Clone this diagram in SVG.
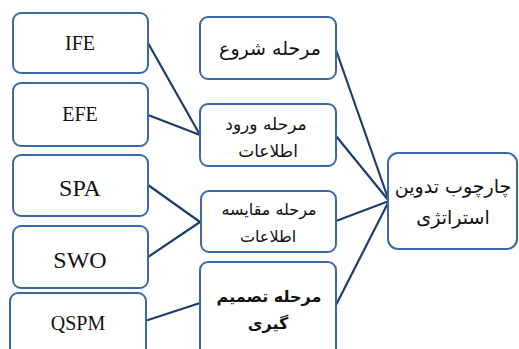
<svg xmlns="http://www.w3.org/2000/svg" width="519" height="349" viewBox="0 0 519 349">
<style>
.box{fill:#fff;stroke:#3a6aa6;stroke-width:2}
.ln{stroke:#1d3d6b;stroke-width:2.2;fill:none}
.en{font-family:"Liberation Serif",serif;fill:#111;text-anchor:middle}
.fa{font-family:"DejaVu Sans",sans-serif;fill:#111;text-anchor:middle;direction:rtl}
</style>
<rect width="519" height="349" fill="#fff"/>
<g id="connectors">
<line class="ln" x1="148" y1="43" x2="200" y2="135"/>
<line class="ln" x1="148" y1="115" x2="200" y2="135"/>
<line class="ln" x1="148" y1="185" x2="200" y2="222"/>
<line class="ln" x1="148" y1="257" x2="200" y2="222"/>
<line class="ln" x1="145" y1="321" x2="200" y2="303"/>
<line class="ln" x1="336" y1="50" x2="389" y2="201"/>
<line class="ln" x1="336" y1="136" x2="389" y2="201"/>
<line class="ln" x1="336" y1="221" x2="389" y2="201"/>
<line class="ln" x1="336" y1="305" x2="389" y2="201"/>
</g>
<g id="ife"><rect class="box" x="13" y="13" width="135" height="60" rx="8"/><text class="en" x="80" y="50" font-size="20">IFE</text></g>
<g id="efe"><rect class="box" x="13" y="83" width="135" height="63" rx="8"/><text class="en" x="80" y="121" font-size="20">EFE</text></g>
<g id="spa"><rect class="box" x="13" y="155" width="135" height="61" rx="8"/><text class="en" x="80" y="196" font-size="24">SPA</text></g>
<g id="swo"><rect class="box" x="13" y="226" width="135" height="62" rx="8"/><text class="en" x="80" y="268" font-size="24">SWO</text></g>
<g id="qspm"><rect class="box" x="10" y="293" width="136" height="70" rx="8"/><text class="en" x="78" y="330" font-size="20">QSPM</text></g>
<g id="start"><rect class="box" x="200" y="17" width="136" height="62" rx="8"/><text class="fa" x="270" y="55" font-size="19">مرحله شروع</text></g>
<g id="input"><rect class="box" x="200" y="104" width="136" height="62" rx="8"/><text class="fa" x="266" y="130" font-size="17">مرحله ورود</text><text class="fa" x="268" y="157" font-size="17">اطلاعات</text></g>
<g id="compare"><rect class="box" x="201" y="191" width="135" height="61" rx="8"/><text class="fa" x="269" y="215" font-size="16">مرحله مقایسه</text><text class="fa" x="268" y="242" font-size="16">اطلاعات</text></g>
<g id="decision"><rect class="box" x="200" y="262" width="136" height="100" rx="8"/><text class="fa" x="269" y="302" font-size="16" font-weight="bold">مرحله تصمیم</text><text class="fa" x="268" y="329" font-size="16" font-weight="bold">گیری</text></g>
<g id="framework"><rect class="box" x="388" y="153" width="129" height="96" rx="10"/><text class="fa" x="453" y="193" font-size="19">چارچوب تدوین</text><text class="fa" x="453" y="224" font-size="19">استراتژی</text></g>
</svg>
